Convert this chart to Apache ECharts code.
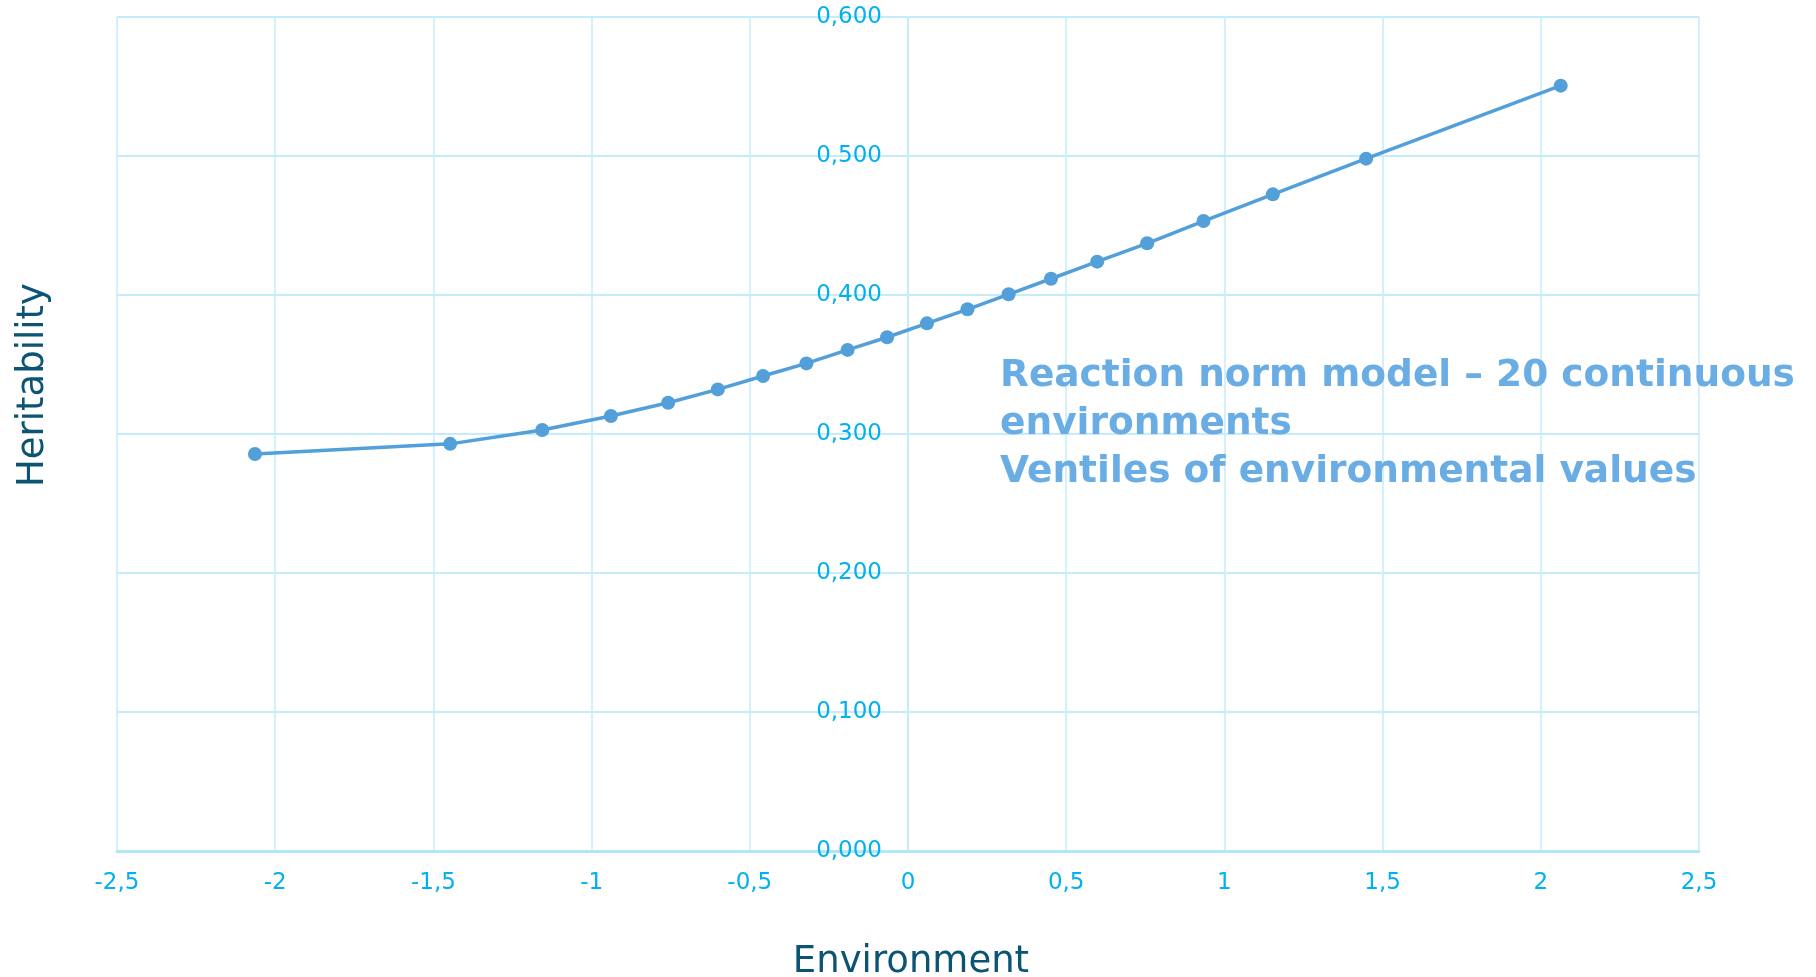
<!DOCTYPE html>
<html>
<head>
<meta charset="utf-8">
<script src="https://cdn.jsdelivr.net/npm/echarts@6/dist/echarts.min.js"></script>
<style>
html,body{margin:0;padding:0;background:#fff;}
#chart{width:1816px;height:977px;}
</style>
</head>
<body>
<div id="chart"></div>
<script>
var environment = [-2.064, -1.447, -1.156, -0.939, -0.758, -0.601, -0.458, -0.321, -0.191, -0.066,
                   0.060, 0.188, 0.318, 0.452, 0.598, 0.756, 0.934, 1.153, 1.448, 2.063];
var heritability = [0.2856, 0.2929, 0.3029, 0.3129, 0.3225, 0.3321, 0.3417, 0.3508, 0.3605, 0.3696,
                    0.3796, 0.3897, 0.4005, 0.4117, 0.4240, 0.4372, 0.4532, 0.4724, 0.4981, 0.5506];
var xTicks = [-2.5, -2, -1.5, -1, -0.5, 0, 0.5, 1, 1.5, 2, 2.5];
var yTicks = [0, 0.1, 0.2, 0.3, 0.4, 0.5, 0.6];
var xTitle = 'Environment';
var yTitle = 'Heritability';
var noteLines = ['Reaction norm model \u2013 20 continuous', 'environments', 'Ventiles of environmental values'];

var points = environment.map(function (x, i) { return [x, heritability[i]]; });

var chart = echarts.init(document.getElementById('chart'), null, {renderer: 'canvas'});
var fontFamily = '"DejaVu Sans", Verdana, sans-serif';
var gridColor = '#c5ecfb';
var gridLeft = 117, gridRight = 117;
var plotWidth = 1816 - gridLeft - gridRight;
var xMin = xTicks[0], xMax = xTicks[xTicks.length - 1];
// shift the y axis so it sits at x = 0 of the value axis
var yAxisOffset = -plotWidth * (0 - xMin) / (xMax - xMin);

chart.setOption({
  animation: false,
  backgroundColor: '#ffffff',
  grid: {left: gridLeft, right: gridRight, top: 17, bottom: 126, containLabel: false},
  xAxis: {
    type: 'value',
    min: xMin, max: xMax, interval: 0.5,
    axisLine: {show: true, onZero: true, lineStyle: {color: '#b3e5f9', width: 3}},
    axisTick: {show: false},
    axisLabel: {
      color: '#00b0f0', fontSize: 23, fontFamily: fontFamily, margin: 21,
      formatter: function (v) { return String(v).replace('.', ','); }
    },
    splitLine: {show: true, lineStyle: {color: gridColor, width: 1.5}}
  },
  yAxis: {
    type: 'value',
    position: 'left',
    offset: yAxisOffset,
    min: yTicks[0], max: yTicks[yTicks.length - 1], interval: 0.1,
    axisLine: {show: true, onZero: false, lineStyle: {color: gridColor, width: 2}},
    axisTick: {show: false},
    axisLabel: {
      color: '#00b0f0', fontSize: 23, fontFamily: fontFamily, margin: 26,
      padding: [4, 0, 0, 0],
      formatter: function (v) { return v.toFixed(3).replace('.', ','); }
    },
    splitLine: {show: true, lineStyle: {color: gridColor, width: 2}}
  },
  series: [{
    type: 'line',
    data: points,
    symbol: 'circle',
    symbolSize: 14,
    lineStyle: {color: '#529fd9', width: 3.5},
    itemStyle: {color: '#529fd9'},
    smooth: false,
    z: 5
  }],
  graphic: [
    {
      type: 'text', x: 911, y: 962,
      style: {text: xTitle, fill: '#0b5474', fontSize: 37, fontFamily: fontFamily,
              align: 'center', verticalAlign: 'middle'}
    },
    {
      type: 'text', x: 33, y: 385, rotation: Math.PI / 2,
      style: {text: yTitle, fill: '#0b5474', fontSize: 37, fontFamily: fontFamily,
              align: 'center', verticalAlign: 'middle'}
    },
    {
      type: 'text', x: 1000, y: 352, z: 10,
      style: {text: noteLines.join('\n'), fill: '#6aade4', fontSize: 37.5, fontWeight: 'bold',
              fontFamily: fontFamily, lineHeight: 48, align: 'left', verticalAlign: 'top'}
    }
  ]
});
</script>
</body>
</html>
